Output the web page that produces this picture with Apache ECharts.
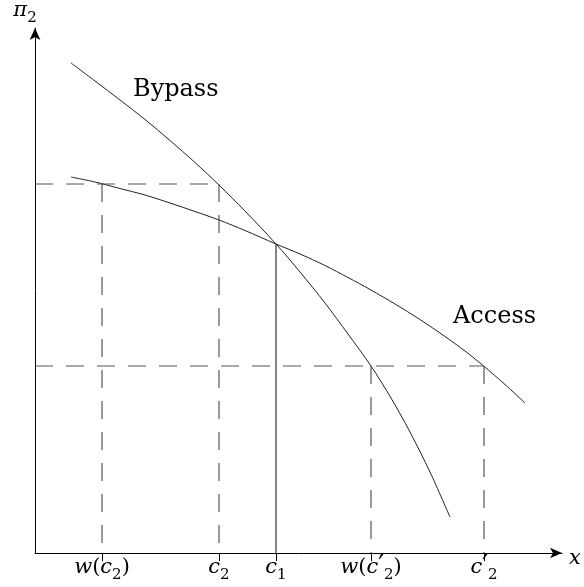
<!DOCTYPE html>
<html>
<head>
<meta charset="utf-8">
<title>Bypass vs Access</title>
<script src="https://cdn.jsdelivr.net/npm/echarts@6/dist/echarts.min.js"></script>
<style>
  html, body { margin: 0; padding: 0; background: #fff; }
  #chart { width: 584px; height: 587px; }
</style>
</head>
<body>
<div id="chart"></div>
<script>
// curves (x to the right, pi_2 upwards)
const bypassX = [36, 60, 85, 110, 135, 160, 184, 210, 241, 265, 290, 313, 336, 356, 375, 395, 415];
const bypassY = [490, 472, 453, 433.5, 412.5, 390.5, 368, 342, 309, 281, 250, 219, 187, 155, 121, 81, 36];
const accessX = [36, 60, 85, 110, 135, 160, 184, 210, 241, 265, 290, 313, 336, 360, 385, 410, 430, 448, 470, 490];
const accessY = [376, 371, 364.5, 358, 350, 341.5, 333, 322.5, 309, 299, 287.5, 275.5, 263, 249, 233.5, 216.5, 202, 187.5, 168.5, 150];

// marked x positions and their labels
const tickValues = [67, 184, 241, 336, 449];
const tickLabels = [
    '{i|w}{r|(}{i|c}{s|2}{r|)}',
    '{i|c}{s|2}',
    '{i|c}{s|1}',
    '{i|w}{r|(}{i|c}{p|′}{s|2}{r|)}',
    '{i|c}{p|′}{s|2}'
];
// the two pi_2 levels (upper from c2, lower from w(c2'))
const levels = [369, 187];
const crossY = 309;  // where the curves meet, above c1
const xMax = 527;
const yMax = 525;

const chartInstance = echarts.init(document.getElementById('chart'), null, { renderer: 'canvas' });

const serif = 'DejaVu Serif';
const richStyle = {
    i: { fontFamily: serif, fontStyle: 'italic', fontSize: 21, lineHeight: 30, verticalAlign: 'middle', color: '#000' },
    r: { fontFamily: serif, fontSize: 21, lineHeight: 30, verticalAlign: 'middle', color: '#000' },
    s: { fontFamily: serif, fontSize: 15, lineHeight: 15, verticalAlign: 'bottom', color: '#000' },
    p: { fontFamily: serif, fontSize: 26, lineHeight: 24, verticalAlign: 'top', color: '#000' }
};

const zip = (xs, ys) => xs.map((x, i) => [x, ys[i]]);

// dashed guide lines
const dashed = [
    [[0, levels[0]], [tickValues[1], levels[0]]],
    [[tickValues[0], levels[0]], [tickValues[0], 0]],
    [[tickValues[1], levels[0]], [tickValues[1], 0]],
    [[0, levels[1]], [tickValues[4], levels[1]]],
    [[tickValues[3], levels[1]], [tickValues[3], 0]],
    [[tickValues[4], levels[1]], [tickValues[4], 0]]
];
const solidC1 = [[tickValues[2], crossY], [tickValues[2], 0]];

const lineSeries = (data, style, smooth) => ({
    type: 'line',
    data: data,
    showSymbol: false,
    smooth: smooth || false,
    silent: true,
    lineStyle: style
});

let series = [
    lineSeries(zip(bypassX, bypassY), { color: '#222', width: 1 }, 0.3),
    lineSeries(zip(accessX, accessY), { color: '#222', width: 1 }, 0.3),
    lineSeries(solidC1, { color: '#333', width: 1.2 })
];
dashed.forEach(seg => {
    series.push(lineSeries(seg, { color: '#555', width: 1.2, type: [18, 13] }));
});

const option = {
    animation: false,
    backgroundColor: '#fff',
    grid: { left: 35, right: 22, top: 28, bottom: 34 },
    xAxis: {
        type: 'value',
        min: 0,
        max: xMax,
        name: '{i|x}',
        nameLocation: 'end',
        nameGap: 7,
        nameTextStyle: { rich: richStyle, padding: [12, 0, 0, 0] },
        axisLine: {
            show: true,
            symbol: ['none', 'arrow'],
            symbolSize: [8, 12],
            lineStyle: { color: '#000', width: 1 }
        },
        axisTick: {
            show: true,
            customValues: tickValues,
            length: 8,
            inside: false,
            lineStyle: { color: '#000' }
        },
        axisLabel: {
            show: true,
            customValues: tickValues,
            margin: 0,
            formatter: v => tickLabels[tickValues.indexOf(v)],
            rich: richStyle
        },
        splitLine: { show: false }
    },
    yAxis: {
        type: 'value',
        min: 0,
        max: yMax,
        name: '{i|π}{s|2}',
        nameLocation: 'end',
        nameGap: 2,
        nameTextStyle: { rich: richStyle, padding: [0, 20, 0, 0] },
        axisLine: {
            show: true,
            symbol: ['none', 'arrow'],
            symbolSize: [8, 12],
            lineStyle: { color: '#000', width: 1 }
        },
        axisTick: { show: false },
        axisLabel: { show: false },
        splitLine: { show: false }
    },
    graphic: [
        {
            type: 'text', left: 133, top: 78,
            style: { text: 'Bypass', fontFamily: serif, fontSize: 24, fill: '#000' }
        },
        {
            type: 'text', left: 453, top: 305,
            style: { text: 'Access', fontFamily: serif, fontSize: 24, fill: '#000' }
        }
    ],
    series: series
};
chartInstance.setOption(option);
</script>
</body>
</html>
